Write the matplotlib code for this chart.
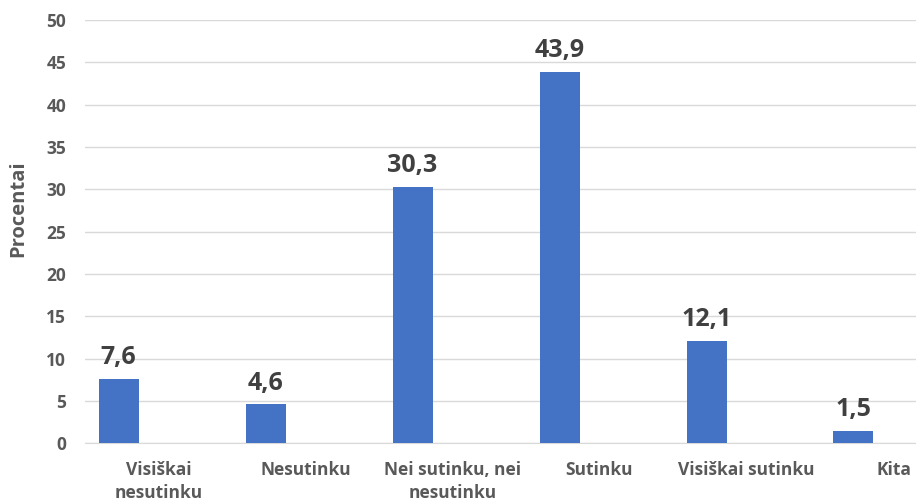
import numpy as np
import matplotlib.pyplot as plt

plt.rcParams['font.family'] = ['Open Sans', 'DejaVu Sans']

kategorijos = ['Visiškai\nnesutinku', 'Nesutinku', 'Nei sutinku, nei\nnesutinku',
               'Sutinku', 'Visiškai sutinku', 'Kita']
reiksmes = [7.6, 4.6, 30.3, 43.9, 12.1, 1.5]
y_ticks = [0, 5, 10, 15, 20, 25, 30, 35, 40, 45, 50]

fig = plt.figure(figsize=(9.16, 5.04), dpi=100)
ax = fig.add_axes([85 / 916, 1 - 443.3 / 504, 1 - 85 / 916, (443.3 - 20) / 504])

x = np.arange(len(kategorijos))
plotis = 40 / 147
bars = ax.bar(x - plotis, reiksmes, width=plotis, color='#4472C4', zorder=3)

for b, v in zip(bars, reiksmes):
    ax.annotate(f'{v:.1f}'.replace('.', ','), (b.get_x() + b.get_width() / 2, v),
                xytext=(0, 10.5), textcoords='offset points', ha='center', va='baseline',
                fontsize=18, fontweight='bold', color='#404040')

ax.set_xlim(-0.5, -0.5 + 831 / 147)
ax.set_ylim(0, 50)
ax.set_yticks(y_ticks)
ax.set_xticks(x)
ax.set_xticklabels(kategorijos, fontsize=12.5, fontweight='bold', color='#595959',
                   linespacing=1.35, va='top')
ax.tick_params(axis='x', length=0, pad=13)
ax.tick_params(axis='y', length=0, pad=13.5, labelsize=12.5, labelcolor='#595959')
for t in ax.get_yticklabels():
    t.set_fontweight('bold')

ax.grid(axis='y', color='#d9d9d9', linewidth=1, zorder=0)
for s in ['top', 'right', 'left']:
    ax.spines[s].set_visible(False)
ax.spines['bottom'].set_color('#d9d9d9')
ax.spines['bottom'].set_zorder(1)

ax.set_ylabel('Procentai', fontsize=14.5, fontweight='bold', color='#595959')
ax.yaxis.set_label_coords(-57 / 831, 0.555)

fig.savefig('out.png', dpi=100)
